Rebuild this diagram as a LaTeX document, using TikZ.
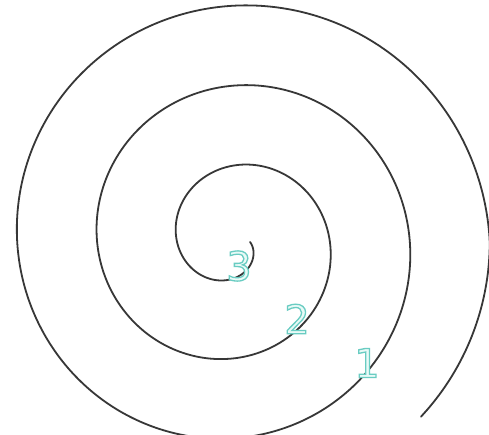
\documentclass[tikz,border=0pt]{standalone}
\usepackage{fontspec}
\newfontfamily\labelfont{DejaVu Sans}
\definecolor{spiralcol}{RGB}{55,55,55}
\definecolor{labelfill}{RGB}{232,250,247}
\tikzset{
  spiral/.style={draw=spiralcol, line width=1.8pt, line cap=round},
  numlabel/.style={inner sep=0pt, font=\labelfont\fontsize{40}{40}\selectfont}
}
\newcommand{\outlinedigit}[1]{\textcolor{labelfill}{\special{pdf:literal 2 Tr 1.3 w 0.41 0.80 0.76 RG}#1\special{pdf:literal 0 Tr}}}
\begin{document}
\begin{tikzpicture}[x=1pt,y=-1pt]
\useasboundingbox (0,0) rectangle (489,435);
\fill[white] (0,0) rectangle (489,435);
\draw[spiral] plot[domain=0:1123, samples=500, smooth, variable=\t]
  ({233.5+(16.5+0.222*min(\t,1080))*cos(\t)}, {242+(16.5+0.222*min(\t,1080))*sin(\t)});
\node[numlabel] (n3) at (239,266) {\outlinedigit{3}};
\node[numlabel] (n2) at (297,319) {\outlinedigit{2}};
\node[numlabel] (n1) at (367,363) {\outlinedigit{1}};
\end{tikzpicture}
\end{document}
